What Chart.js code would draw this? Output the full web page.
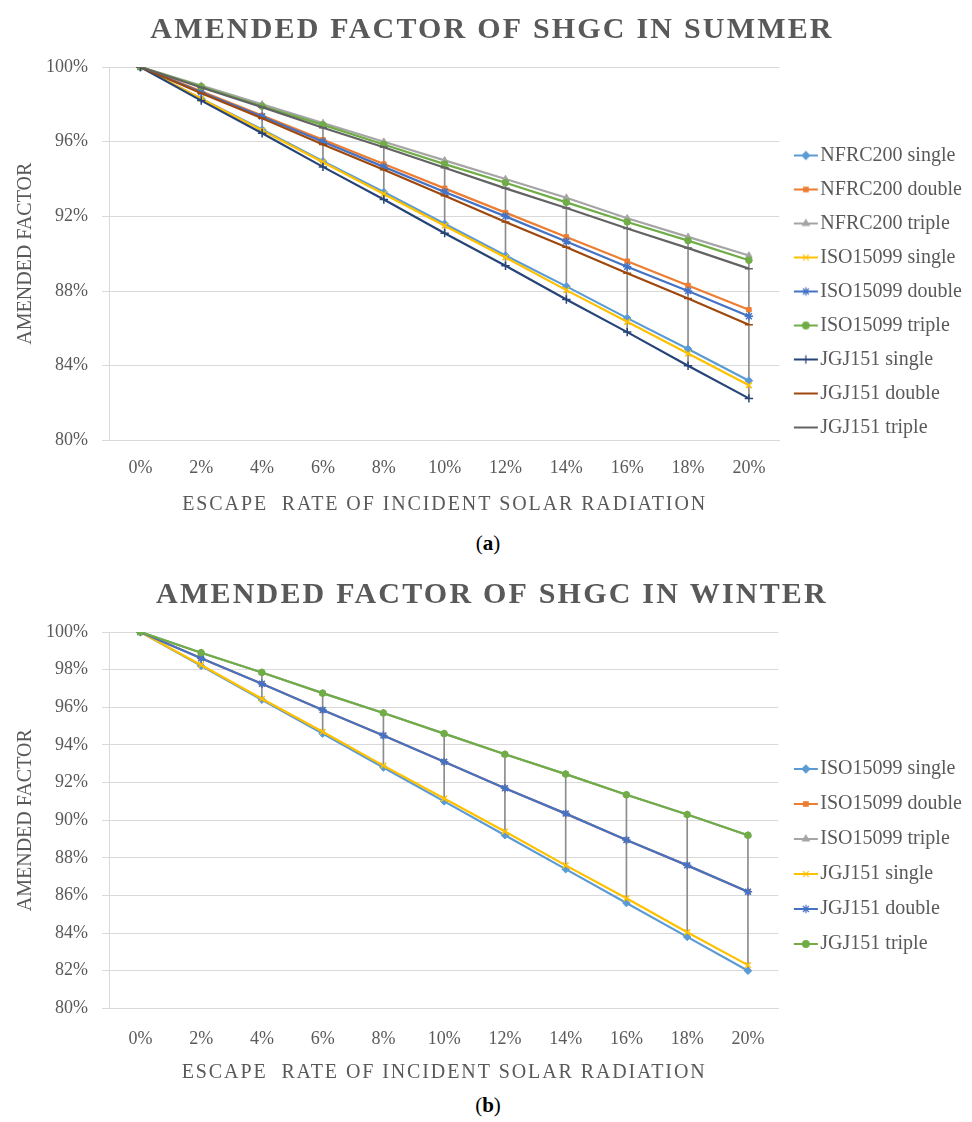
<!DOCTYPE html>
<html><head><meta charset="utf-8">
<script src="https://cdn.jsdelivr.net/npm/chart.js@4.4.0/dist/chart.umd.min.js"></script>
<style>
body{margin:0;background:#fff;width:972px;height:1122px;position:relative;overflow:hidden;font-family:'Liberation Serif',serif}
.wrap{position:absolute;left:0;width:972px}
.cap{position:absolute;left:0;width:972px;text-align:center;font-size:21px;color:#000;line-height:24px}
</style></head>
<body>
<div class="wrap" style="top:0"><canvas id="ca" width="972" height="525"></canvas></div>
<div class="cap" style="top:531px;padding-left:2px">(<b>a</b>)</div>
<div class="wrap" style="top:565px"><canvas id="cb" width="972" height="528"></canvas></div>
<div class="cap" style="top:1093px;padding-left:2px">(<b>b</b>)</div>
<script>
// ---------- data ----------
const categories = ['0%','2%','4%','6%','8%','10%','12%','14%','16%','18%','20%'];
const yTicksSummer = [80, 84, 88, 92, 96, 100];
const yTicksWinter = [80, 82, 84, 86, 88, 90, 92, 94, 96, 98, 100];

const summerNames = ['NFRC200 single','NFRC200 double','NFRC200 triple','ISO15099 single','ISO15099 double','ISO15099 triple','JGJ151 single','JGJ151 double','JGJ151 triple'];
const summerNFRC200Single  = [100, 98.3, 96.65, 94.95, 93.3, 91.6, 89.9, 88.25, 86.55, 84.9, 83.2];
const summerNFRC200Double  = [100, 98.7, 97.4, 96.1, 94.8, 93.5, 92.2, 90.9, 89.6, 88.3, 87.0];
const summerNFRC200Triple  = [100, 99.0, 98.0, 97.0, 96.0, 95.0, 94.0, 93.0, 91.9, 90.9, 89.9];
const summerISO15099Single = [100, 98.3, 96.6, 94.9, 93.2, 91.5, 89.8, 88.05, 86.35, 84.65, 82.95];
const summerISO15099Double = [100, 98.65, 97.35, 96.0, 94.65, 93.3, 92.0, 90.65, 89.3, 88.0, 86.65];
const summerISO15099Triple = [100, 98.95, 97.9, 96.9, 95.85, 94.8, 93.8, 92.75, 91.7, 90.7, 89.65];
const summerJGJ151Single   = [100, 98.2, 96.45, 94.65, 92.9, 91.1, 89.35, 87.55, 85.8, 84.0, 82.25];
const summerJGJ151Double   = [100, 98.6, 97.25, 95.85, 94.5, 93.1, 91.7, 90.35, 88.95, 87.6, 86.2];
const summerJGJ151Triple   = [100, 98.9, 97.85, 96.75, 95.7, 94.6, 93.5, 92.45, 91.35, 90.3, 89.2];

const winterNames = ['ISO15099 single','ISO15099 double','ISO15099 triple','JGJ151 single','JGJ151 double','JGJ151 triple'];
const winterISO15099Single = [100, 98.2, 96.4, 94.6, 92.8, 91.0, 89.2, 87.4, 85.6, 83.8, 82.0];
const winterISO15099Double = [100, 98.6, 97.25, 95.85, 94.5, 93.1, 91.7, 90.35, 88.95, 87.6, 86.2];
const winterISO15099Triple = [100, 98.9, 97.85, 96.75, 95.7, 94.6, 93.5, 92.45, 91.35, 90.3, 89.2];
const winterJGJ151Single   = [100, 98.25, 96.45, 94.7, 92.9, 91.15, 89.4, 87.6, 85.85, 84.05, 82.3];
const winterJGJ151Double   = [100, 98.6, 97.25, 95.85, 94.5, 93.1, 91.7, 90.35, 88.95, 87.6, 86.2];
const winterJGJ151Triple   = [100, 98.9, 97.85, 96.75, 95.7, 94.6, 93.5, 92.45, 91.35, 90.3, 89.2];

// ---------- styles ----------
const seriesColors  = ['#5B9BD5','#ED7D31','#A5A5A5','#FFC000','#4472C4','#70AD47','#264478','#9E480E','#636363'];
const seriesMarkers = ['rectRot','rect','triangle','crossRot','star','circle','cross','line','line'];
const markerRadius  = {rectRot:3.8, rect:3.2, triangle:3.8, crossRot:4, star:4.2, circle:3.3, cross:4.2, line:4};
const TXT = '#595959';
const FONT = "'Liberation Serif', serif";

function legendImage(color, marker) {
  const c = document.createElement('canvas');
  c.width = 34; c.height = 14;
  const ctx = c.getContext('2d');
  ctx.strokeStyle = color; ctx.lineWidth = 2;
  ctx.beginPath(); ctx.moveTo(9, 7); ctx.lineTo(33, 7); ctx.stroke();
  ctx.fillStyle = color; ctx.lineWidth = 1.2;
  Chart.helpers.drawPoint(ctx, {pointStyle: marker, radius: markerRadius[marker], rotation: 0, borderWidth: 1.2}, 21, 7);
  return c;
}

const spacingPlugin = {
  id: 'letterSpacing',
  beforeDraw(chart) {
    const wrap = (obj, fn, sp) => {
      if (!obj || obj['_ls_' + fn]) return;
      const orig = obj[fn].bind(obj);
      obj[fn] = function (...a) {
        const ctx = chart.ctx; ctx.save(); ctx.letterSpacing = sp; orig(...a); ctx.restore();
      };
      obj['_ls_' + fn] = true;
    };
    wrap(chart.titleBlock, 'draw', '2.2px');
    wrap(chart.scales.x, 'drawTitle', '1.9px');
  }
};

function makeChart(id, title, names, series, yMin, yMax, step, legendPad, legendShift, xTickPad, xTitlePadTop) {
  const n = series.length;
  const hiLo = categories.map((_, i) => {
    const col = series.map(s => s[i]);
    return [Math.min(...col), Math.max(...col)];
  });
  const imgs = [];
  const datasets = series.map((s, i) => {
    const col = seriesColors[i], mk = seriesMarkers[i];
    imgs.push(legendImage(col, mk));
    const crossy = ['crossRot','star','cross','line'].includes(mk);
    return {
      type: 'line', label: names[i], data: s,
      borderColor: col, backgroundColor: col, borderWidth: 2.2,
      pointStyle: mk, pointRadius: markerRadius[mk],
      pointBackgroundColor: col, pointBorderColor: col,
      pointBorderWidth: crossy ? 1.5 : 1, tension: 0,
      order: n - i
    };
  });
  datasets.push({
    type: 'bar', label: 'hilo', data: hiLo,
    backgroundColor: '#8C8C8C', borderWidth: 0, barThickness: 1,
    order: n + 1
  });
  return new Chart(document.getElementById(id), {
    type: 'line',
    data: {labels: categories, datasets},
    plugins: [spacingPlugin],
    options: {
      responsive: false, animation: false,
      layout: {padding: {left: 12, right: 0, top: 0, bottom: 4}},
      plugins: {
        tooltip: {enabled: false},
        title: {display: true, text: title, color: TXT,
          font: {family: FONT, size: 30, weight: 'bold'}, padding: {top: 12, bottom: 19}},
        legend: {
          position: 'right', align: 'center',
          title: {display: true, text: ' ', font: {size: 10}, padding: {top: 0, bottom: legendShift - 12}},
          labels: {
            color: TXT, font: {family: FONT, size: 20},
            usePointStyle: true, pointStyleWidth: 17, padding: legendPad,
            generateLabels: (chart) => chart.data.datasets.slice(0, n).map((ds, i) => ({
              text: ds.label, fillStyle: ds.borderColor, strokeStyle: ds.borderColor,
              lineWidth: 0, pointStyle: imgs[i], hidden: false, datasetIndex: i,
              fontColor: TXT, rotation: 0
            }))
          }
        }
      },
      scales: {
        x: {
          offset: true,
          grid: {display: false, drawTicks: false},
          border: {display: true, color: '#D9D9D9'},
          ticks: {color: TXT, font: {family: FONT, size: 18}, padding: xTickPad, autoSkip: false, maxRotation: 0},
          title: {display: true, text: 'ESCAPE  RATE OF INCIDENT SOLAR RADIATION', color: TXT,
            font: {family: FONT, size: 20}, padding: {top: xTitlePadTop, bottom: 4}}
        },
        y: {
          min: yMin, max: yMax,
          afterFit: (scale) => { scale.width -= 10; },
          grid: {color: '#D9D9D9', tickLength: 8, drawTicks: true},
          border: {display: true, color: '#D9D9D9'},
          ticks: {color: TXT, font: {family: FONT, size: 18}, padding: 14, stepSize: step,
            callback: (v) => v + '%'},
          title: {display: true, text: 'AMENDED FACTOR', color: TXT,
            font: {family: FONT, size: 20}, padding: {top: 2, bottom: 4}}
        }
      }
    }
  });
}

makeChart('ca', 'AMENDED FACTOR OF SHGC IN SUMMER', summerNames,
  [summerNFRC200Single, summerNFRC200Double, summerNFRC200Triple,
   summerISO15099Single, summerISO15099Double, summerISO15099Triple,
   summerJGJ151Single, summerJGJ151Double, summerJGJ151Triple],
  yTicksSummer[0], yTicksSummer[yTicksSummer.length - 1], yTicksSummer[1] - yTicksSummer[0], 14, 62, 17, -3);

makeChart('cb', 'AMENDED FACTOR OF SHGC IN WINTER', winterNames,
  [winterISO15099Single, winterISO15099Double, winterISO15099Triple,
   winterJGJ151Single, winterJGJ151Double, winterJGJ151Triple],
  yTicksWinter[0], yTicksWinter[yTicksWinter.length - 1], yTicksWinter[1] - yTicksWinter[0], 15, 59, 20, -9);
</script>
</body></html>
